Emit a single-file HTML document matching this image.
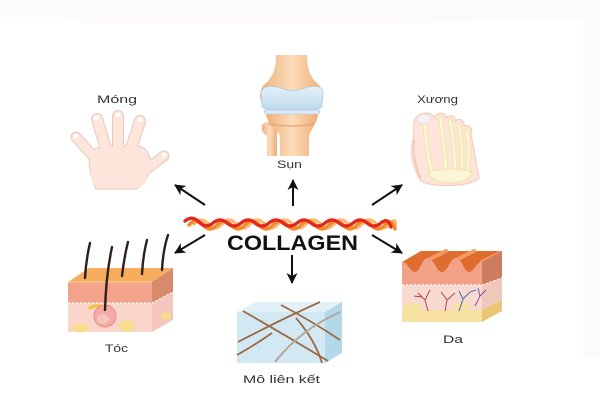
<!DOCTYPE html>
<html>
<head>
<meta charset="utf-8">
<style>
html,body{margin:0;padding:0;background:#fff;}
svg{display:block;}
text{font-family:"Liberation Sans",sans-serif;}
</style>
</head>
<body>
<svg width="600" height="400" viewBox="0 0 600 400" xmlns="http://www.w3.org/2000/svg">
<defs>
  <marker id="ah" markerWidth="11" markerHeight="11" refX="10" refY="5.5" orient="auto" markerUnits="userSpaceOnUse">
    <path d="M0,0 L11,5.5 L0,11 L3,5.5 Z" fill="#111"/>
  </marker>
  <linearGradient id="bone" x1="0" y1="0" x2="1" y2="0">
    <stop offset="0" stop-color="#eeaf78"/>
    <stop offset="0.5" stop-color="#fcdcbb"/>
    <stop offset="1" stop-color="#eeae76"/>
  </linearGradient>
  <linearGradient id="cart" x1="0" y1="0" x2="0" y2="1">
    <stop offset="0" stop-color="#e4f0f8"/>
    <stop offset="1" stop-color="#bcd9ec"/>
  </linearGradient>
</defs>

<!-- background -->
<rect x="0" y="0" width="600" height="400" fill="#ffffff"/>
<path d="M0,0 H600 V20 H490 Q400,24 300,24 L85,24 Q75,17 60,17 H0 Z" fill="#fcfafa"/>
<rect x="583" y="20" width="17" height="338" fill="#fdfafa"/>

<!-- ===== Hand (Móng) ===== -->
<g stroke-linecap="round">
  <g stroke="#ecc6b5">
    <line x1="98" y1="162" x2="76" y2="137" stroke-width="11"/>
    <line x1="107" y1="152" x2="97" y2="119" stroke-width="12"/>
    <line x1="118" y1="152" x2="118" y2="116" stroke-width="12"/>
    <line x1="130" y1="152" x2="140" y2="121" stroke-width="12"/>
    <line x1="140" y1="174" x2="164" y2="156" stroke-width="11"/>
  </g>
  <path d="M89,157 Q92,146 110,146 L140,146 Q150,150 151,165 Q150,178 137,189 L96,189 Q89,175 89,157 Z" fill="#fce6dc" stroke="#ecc6b5" stroke-width="1"/>
  <g stroke="#fce6dc">
    <line x1="98" y1="162" x2="76" y2="137" stroke-width="9"/>
    <line x1="107" y1="152" x2="97" y2="119" stroke-width="10"/>
    <line x1="118" y1="152" x2="118" y2="116" stroke-width="10"/>
    <line x1="130" y1="152" x2="140" y2="121" stroke-width="10"/>
    <line x1="140" y1="174" x2="164" y2="156" stroke-width="9"/>
  </g>
  <rect x="91" y="150" width="56" height="37" fill="#fce6dc" stroke="none" rx="10"/>
  <g fill="#ffffff">
    <ellipse cx="76" cy="136" rx="2.5" ry="2.2"/>
    <ellipse cx="96" cy="118" rx="2.5" ry="2.2"/>
    <ellipse cx="118" cy="115" rx="2.5" ry="2.2"/>
    <ellipse cx="140" cy="120" rx="2.5" ry="2.2"/>
    <ellipse cx="164" cy="155" rx="2.5" ry="2.2"/>
  </g>
</g>
<text x="97" y="103" font-size="11" fill="#333" textLength="40" lengthAdjust="spacingAndGlyphs">Móng</text>

<!-- ===== Knee (Sụn) ===== -->
<path d="M267,156 L267,136 C262,133 260,127 263,124 C267,120 276,122 277,130 L277,156 Z" fill="url(#bone)"/>
<path d="M266,113 L318,113 C318,122 312,128 309,135 L309,156 L280,156 L280,135 C274,128 266,122 266,113 Z" fill="url(#bone)"/>
<path d="M268,124 Q292,128 314,124" stroke="#e0a26f" stroke-width="2" fill="none" opacity="0.6"/>
<path d="M276,55 L307,55 C307,70 311,78 318,84 C326,91 323,106 313,110 L269,110 C259,106 257,91 265,84 C272,78 276,70 276,55 Z" fill="url(#bone)"/>
<path d="M261,92 C264,84 276,86 284,89 C290,91 296,91 302,89 C310,86 322,84 323,92 L322,106 C318,112 304,110 292,110 C280,110 266,112 262,106 Z" fill="url(#cart)" stroke="#a9cbe2" stroke-width="0.8"/>
<path d="M264,110 L320,110 L319,114 L265,114 Z" fill="#dceaf4" stroke="#a9cbe2" stroke-width="0.6"/>
<text x="277" y="168" font-size="11" fill="#333" textLength="25" lengthAdjust="spacingAndGlyphs">Sụn</text>

<!-- ===== Foot (Xương) ===== -->
<path d="M414,128 C411,112 432,109 434,118 C436,112 446,111 446,118 C449,114 456,115 455,121 C459,118 465,120 464,126 C468,124 474,128 471,134 L479,178 C472,187 432,188 421,181 C416,168 412,150 414,128 Z" fill="#fde5dc" stroke="#f4c6b7" stroke-width="1"/>
<path d="M414,140 C410,150 413,165 420,178" stroke="#f0ad98" stroke-width="3" fill="none" opacity="0.5"/>
<g stroke-linecap="round" fill="none">
  <g stroke="#f4e6a8" stroke-width="4.5">
    <path d="M424,119 L427,148 L431,170"/>
    <path d="M440,117 L444,145 L446,168"/>
    <path d="M450,120 L454,148 L455,170"/>
    <path d="M459,125 L462,150 L462,170"/>
    <path d="M467,131 L469,152 L468,170"/>
  </g>
  <g stroke="#fdf8dc" stroke-width="2.2">
    <path d="M424,119 L427,148 L431,170"/>
    <path d="M440,117 L444,145 L446,168"/>
    <path d="M450,120 L454,148 L455,170"/>
    <path d="M459,125 L462,150 L462,170"/>
    <path d="M467,131 L469,152 L468,170"/>
  </g>
</g>
<path d="M428,172 Q450,166 472,172 Q470,182 450,183 Q430,182 428,172 Z" fill="#fcf5d6" stroke="#f2e2a0" stroke-width="1"/>
<ellipse cx="424" cy="119" rx="7" ry="5" fill="#f3f1f4" stroke="#f0d9cf" stroke-width="0.8"/>
<text x="417" y="103" font-size="11" fill="#333" textLength="41" lengthAdjust="spacingAndGlyphs">Xương</text>

<!-- ===== Arrows ===== -->
<g stroke="#111" stroke-width="2" marker-end="url(#ah)">
  <line x1="205" y1="205" x2="175" y2="185"/>
  <line x1="293" y1="206" x2="293" y2="180"/>
  <line x1="372" y1="205" x2="402" y2="185"/>
  <line x1="205" y1="235" x2="175" y2="253"/>
  <line x1="372" y1="235" x2="402" y2="253"/>
  <line x1="292" y1="255" x2="292" y2="283"/>
</g>

<!-- ===== Collagen fibre ===== -->
<g fill="none" stroke-linecap="round" stroke-width="3.4">
  <path stroke="#f8bb79" d="M194,224 q7,-8 14,0 t14,0 t14,0 t14,0 t14,0 t14,0 t14,0 t14,0 t14,0 t14,0 t14,0 t14,0 t14,0 t14,0 t5,3"/>
  <path stroke="#f28a2a" d="M189,225 q7,-8 14,0 t14,0 t14,0 t14,0 t14,0 t14,0 t14,0 t14,0 t14,0 t14,0 t14,0 t14,0 t14,0 t14,0 t10,4"/>
  <path stroke="#e4281e" d="M185,221 q7,-6 14,1 t14,1 t14,0 t14,0 t14,0 t14,0 t14,0 t14,0 t14,0 t14,0 t14,0 t14,0 t14,0 t14,0 t10,4"/>
</g>
<text x="227" y="250" font-size="21" font-weight="bold" fill="#111" textLength="131" lengthAdjust="spacingAndGlyphs">COLLAGEN</text>

<!-- ===== Hair block (Tóc) ===== -->
<polygon points="68,282 89,268 173,268 152,282" fill="#f7ad5d"/>
<rect x="68" y="282" width="84" height="21" fill="#f3a389"/>
<rect x="68" y="303" width="84" height="29" fill="#f9d5ca"/>
<polygon points="152,282 173,268 173,292 152,303" fill="#d88a6d"/>
<polygon points="152,303 173,292 173,320 152,332" fill="#f3c7bb"/>
<line x1="68" y1="282" x2="152" y2="282" stroke="#fbd29c" stroke-width="1"/>
<polyline points="68,303 152,303 173,292" fill="none" stroke="#ffffff" stroke-width="1.2" stroke-dasharray="2,2"/>
<ellipse cx="80" cy="328" rx="8" ry="4.5" fill="#f8dd8d"/>
<ellipse cx="127" cy="326" rx="8" ry="5.5" fill="#f8dd8d"/>
<ellipse cx="166" cy="316" rx="5" ry="3.5" fill="#f8dd8d"/>
<path d="M104,307 Q96,304 90,308" stroke="#f3c230" stroke-width="3" fill="none" stroke-linecap="round"/>
<circle cx="105" cy="316" r="11" fill="#f4aaa4" stroke="#e98d8a" stroke-width="1"/>
<ellipse cx="103" cy="319" rx="6" ry="5" fill="#f8c3bd"/>
<g stroke="#2e2019" stroke-width="2.4" fill="none" stroke-linecap="round">
  <path d="M85,278 Q86,260 90,243"/>
  <path d="M105,310 Q106,275 112,247"/>
  <path d="M122,276 Q124,258 128,242"/>
  <path d="M142,274 Q143,255 147,240"/>
  <path d="M162,270 Q163,250 168,235"/>
</g>
<text x="105" y="352" font-size="11" fill="#333" textLength="23" lengthAdjust="spacingAndGlyphs">Tóc</text>

<!-- ===== Connective tissue (Mô liên kết) ===== -->
<polygon points="237,312 255,302 342,302 325,312" fill="#e2f0f8"/>
<rect x="237" y="312" width="88" height="51" fill="#d2e8f3"/>
<polygon points="325,312 342,302 342,353 325,363" fill="#b2d8ea"/>
<g stroke="#9c6a44" stroke-width="1.8" fill="none">
  <path d="M243,311 Q285,335 328,361"/>
  <path d="M281,305 Q310,320 340,340"/>
  <path d="M238,342 Q280,320 320,302"/>
  <path d="M237,355 Q255,345 272,333"/>
  <path d="M296,318 Q315,340 322,363"/>
</g>
<path d="M340,312 Q300,330 275,362" stroke="#b3a79b" stroke-width="2" fill="none"/>
<text x="243" y="383" font-size="11" fill="#333" textLength="77" lengthAdjust="spacingAndGlyphs">Mô liên kết</text>

<!-- ===== Skin (Da) ===== -->
<polygon points="402,262 421,251 502,251 482,262 482,273 402,273" fill="#e06d30"/>
<g stroke="#f39a5f" stroke-width="4" stroke-linecap="round">
  <line x1="430" y1="259" x2="446" y2="251"/>
  <line x1="458" y1="259" x2="474" y2="251"/>
  <line x1="482" y1="262" x2="500" y2="253"/>
</g>
<path d="M402,262 C408,262 410,272 415,272 C420,272 422,258 428,258 C434,258 436,272 442,272 C448,272 450,258 456,258 C462,258 464,272 469,272 C474,272 476,262 482,262 L482,285 L402,285 Z" fill="#f2a387"/>
<rect x="402" y="285" width="80" height="25" fill="#f9dad2"/>
<rect x="402" y="310" width="80" height="12" fill="#f6e1a1"/>
<ellipse cx="412" cy="307" rx="9" ry="4" fill="#f6e1a1"/>
<ellipse cx="462" cy="306" rx="8" ry="4" fill="#f6e1a1"/>
<polygon points="482,262 502,251 502,278 482,285" fill="#cd7c5e"/>
<polygon points="482,285 502,278 502,300 482,310" fill="#f0c7bb"/>
<polygon points="482,310 502,300 502,311 482,322" fill="#e8c676"/>
<polyline points="402,285 482,285 502,278" fill="none" stroke="#fff" stroke-width="1.2" stroke-dasharray="2,2"/>
<g fill="none" stroke-width="0.9">
  <path d="M428,311 L425,300 L418,293 M425,300 L430,290 M422,297 L414,296" stroke="#a5423a"/>
  <path d="M445,311 L447,300 L441,292 M447,300 L455,293" stroke="#a5423a"/>
  <path d="M459,311 L463,299 L470,292 L476,290 M463,299 L459,291" stroke="#3a5fb0"/>
  <path d="M475,306 L480,296 L486,290 M480,296 L478,288" stroke="#7a4c9a"/>
</g>
<text x="443" y="343" font-size="11" fill="#333" textLength="20" lengthAdjust="spacingAndGlyphs">Da</text>
</svg>
</body>
</html>
